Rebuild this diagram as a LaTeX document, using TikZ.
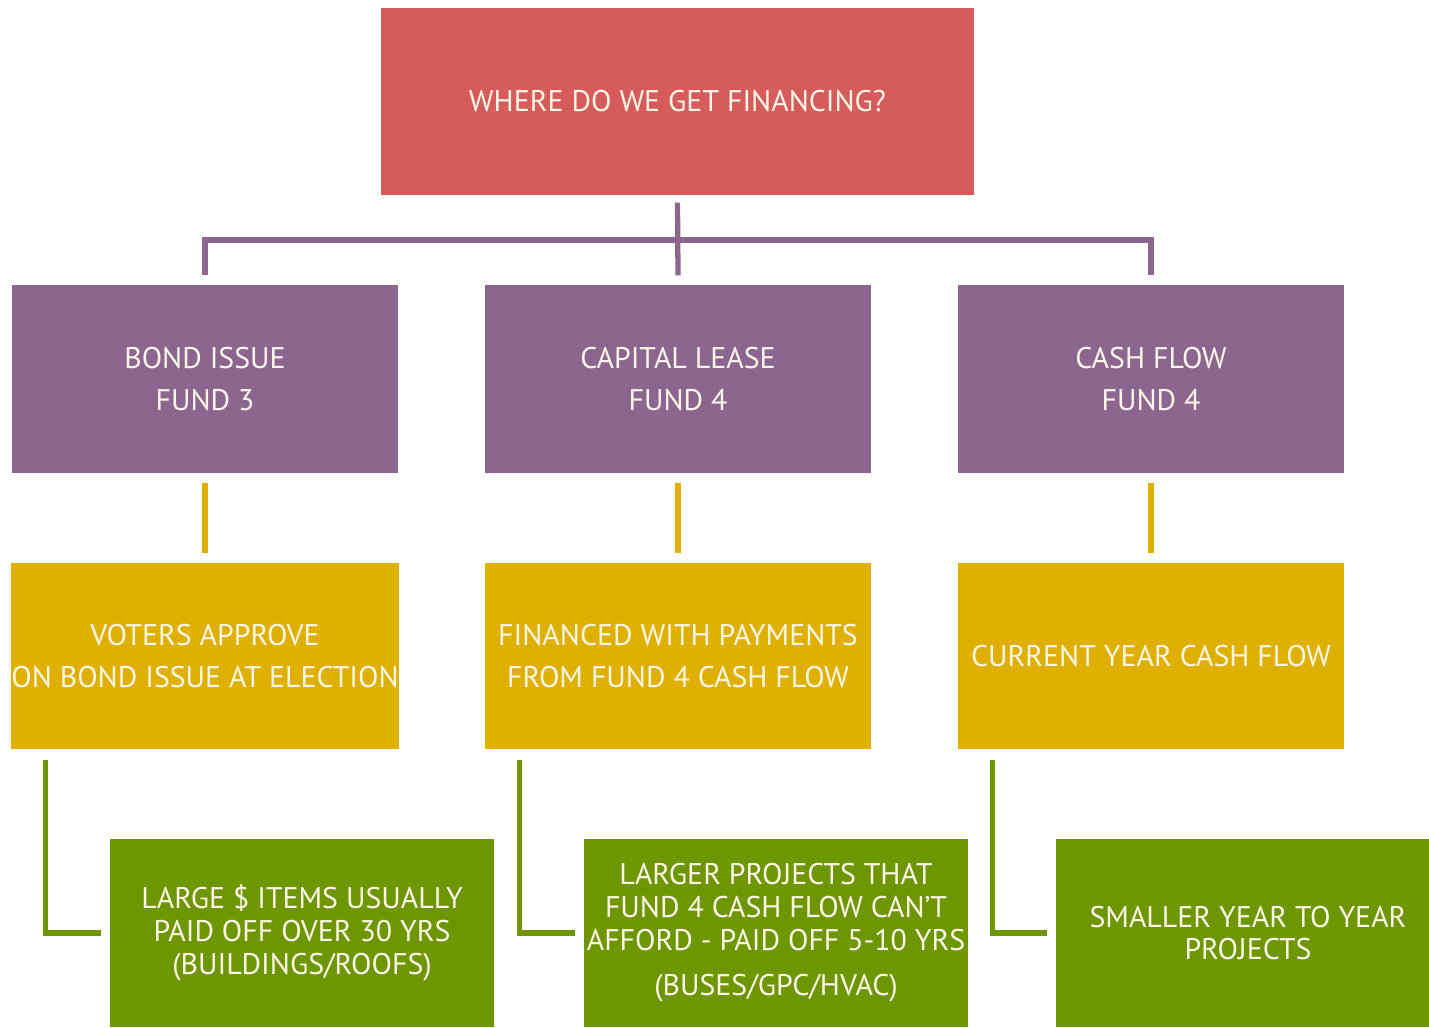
\documentclass[tikz,border=0pt]{standalone}
\usepackage{fontspec}
\setmainfont{PT Sans}
\definecolor{topred}{HTML}{D65B5B}
\definecolor{fundpurple}{HTML}{8D668F}
\definecolor{howgold}{HTML}{E0B000}
\definecolor{usegreen}{HTML}{6E9600}
\definecolor{boxtext}{HTML}{FBF6E8}
\begin{document}
\begin{tikzpicture}[
    x=0.02cm, y=-0.02cm,
    line width=3pt,
    box/.style={rectangle, draw=none, text=boxtext, align=center,
                minimum width=7.72cm, minimum height=3.76cm, inner sep=0pt,
                font=\fontsize{17}{24.4}\selectfont},
    titlebox/.style={box, fill=topred, minimum width=11.86cm, minimum height=3.74cm},
    fundbox/.style={box, fill=fundpurple},
    howbox/.style={box, fill=howgold, minimum height=3.72cm},
    usebox/.style={box, fill=usegreen, minimum width=7.68cm,
                   font=\fontsize{17}{18.7}\selectfont},
    purpleline/.style={draw=fundpurple},
    goldline/.style={draw=howgold},
    greenline/.style={draw=usegreen}
]
  \useasboundingbox (0,0) rectangle (1429,1027);

  %--- exact positions ---
  \node[titlebox] (top) at (677.5,101.5) {WHERE DO WE GET FINANCING?};

  \node[fundbox] (bond)  at (205,379)  {BOND ISSUE\\FUND 3};
  \node[fundbox] (lease) at (678,379)  {CAPITAL LEASE\\FUND 4};
  \node[fundbox] (cash)  at (1151,379) {CASH FLOW\\FUND 4};

  \node[howbox] (voters)   at (205,656)  {VOTERS APPROVE\\ON BOND ISSUE AT ELECTION};
  \node[howbox] (payments) at (678,656)  {FINANCED WITH PAYMENTS\\FROM FUND 4 CASH FLOW};
  \node[howbox] (current)  at (1151,656) {CURRENT YEAR CASH FLOW};

  \node[usebox] (large)   at (302,933)  {LARGE \$ ITEMS USUALLY\\PAID OFF OVER 30 YRS\\(BUILDINGS/ROOFS)};
  \node[usebox] (larger)  at (776,933)  {LARGER PROJECTS THAT\\FUND 4 CASH FLOW CAN'T\\AFFORD - PAID OFF 5-10 YRS\\[7pt](BUSES/GPC/HVAC)};
  \node[usebox] (smaller) at (1248,933) {SMALLER YEAR TO YEAR\\PROJECTS};

  \coordinate (hub) at (678,240);

  %--- edges ---
  \draw[purpleline] ([yshift=-0.1cm]top.south) -- ([yshift=0.14cm]lease.north);
  \draw[purpleline] ([yshift=0.14cm]bond.north) |- (hub) -| ([yshift=0.14cm]cash.north);

  \draw[goldline] ([yshift=-0.14cm]bond.south)  -- ([yshift=0.14cm]voters.north);
  \draw[goldline] ([yshift=-0.14cm]lease.south) -- ([yshift=0.14cm]payments.north);
  \draw[goldline] ([yshift=-0.14cm]cash.south)  -- ([yshift=0.14cm]current.north);

  \draw[greenline] ([xshift=0.74cm,yshift=-0.16cm]voters.south west)   |- ([xshift=-0.12cm]large.west);
  \draw[greenline] ([xshift=0.74cm,yshift=-0.16cm]payments.south west) |- ([xshift=-0.12cm]larger.west);
  \draw[greenline] ([xshift=0.74cm,yshift=-0.16cm]current.south west)  |- ([xshift=-0.12cm]smaller.west);
\end{tikzpicture}
\end{document}
